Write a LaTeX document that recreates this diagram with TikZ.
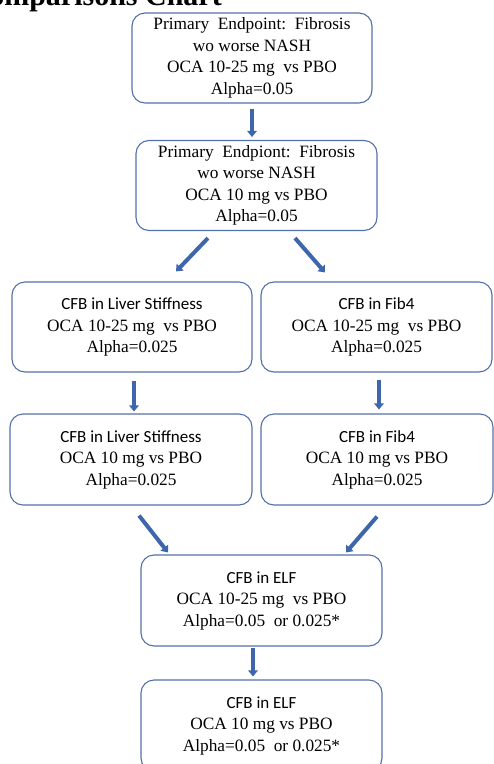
\documentclass[tikz,border=0pt]{standalone}
\usepackage{fontspec}
\setmainfont{Liberation Serif}
\newfontfamily\calibri{Carlito}
\usetikzlibrary{arrows.meta}
\definecolor{boxblue}{RGB}{84,112,168}
\definecolor{arrowblue}{RGB}{62,102,172}
\newcommand{\cfbline}[1]{{\calibri\fontsize{17}{21.5}\selectfont #1}}

\begin{document}
\begin{tikzpicture}[x=1pt,y=-1pt,
  box/.style={draw=boxblue,line width=1.1pt,rounded corners=13pt,minimum height=90pt,
    inner sep=0pt,align=center,font=\fontsize{17.3}{21.5}\selectfont},
  arr/.style={draw=arrowblue,line width=4pt,-{Triangle[width=9.5pt,length=6pt]}}]
\useasboundingbox (0,0) rectangle (494,764);
\clip (0,0) rectangle (494,764);

% heading, cut by the page top
\node[anchor=base east,inner sep=0pt,font=\bfseries\fontsize{30}{30}\selectfont] (title) at (222,5) {Comparisons Chart};

% primary endpoint
\node[box,minimum width=240pt] (prim1025) at (252,58) {Primary\ \ Endpoint:\ \ Fibrosis\\ wo worse\ NASH\\ OCA 10-25 mg\ \ vs PBO\\ Alpha=0.05};
\node[box,minimum width=241pt] (prim10) at (256.5,185.5) {Primary\ \ Endpiont:\ \ Fibrosis\\ wo worse NASH\\ OCA 10 mg vs PBO\\ Alpha=0.05};

% liver stiffness and fib4
\node[box,minimum width=240pt] (ls1025) at (132,327) {\cfbline{CFB in Liver Stiffness}\\ OCA 10-25 mg\ \ vs PBO\\ Alpha=0.025};
\node[box,minimum width=231pt] (fib1025) at (376.5,327) {\cfbline{CFB in Fib4}\\ OCA 10-25 mg\ \ vs PBO\\ Alpha=0.025};
\node[box,minimum width=242pt,minimum height=91pt] (ls10) at (131,459.5) {\cfbline{CFB in Liver Stiffness}\\ OCA 10 mg vs PBO\\ Alpha=0.025};
\node[box,minimum width=232pt,minimum height=91pt] (fib10) at (377,459.5) {\cfbline{CFB in Fib4}\\ OCA 10 mg vs PBO\\ Alpha=0.025};

% ELF
\node[box,minimum width=241pt,minimum height=91pt] (elf1025) at (261.5,600.5) {\cfbline{CFB in ELF}\\ OCA 10-25 mg\ \ vs PBO\\ Alpha=0.05\ \ or 0.025*};
\node[box,minimum width=241pt,minimum height=91pt] (elf10) at (261.5,725.5) {\cfbline{CFB in ELF}\\ OCA 10 mg vs PBO\\ Alpha=0.05\ \ or 0.025*};

% arrows
\draw[arr] ([yshift=-5pt]prim1025.south) -- ([xshift=-4.5pt,yshift=3pt]prim10.north);
\draw[arr] ([xshift=-48.5pt,yshift=-7pt]prim10.south) -- ([xshift=44pt,yshift=10pt]ls1025.north);
\draw[arr] ([xshift=38.5pt,yshift=-7pt]prim10.south) -- ([xshift=-51.5pt,yshift=9pt]fib1025.north);
\draw[arr] ([xshift=2pt,yshift=-8pt]ls1025.south) -- ([xshift=3pt,yshift=2pt]ls10.north);
\draw[arr] ([xshift=2.5pt,yshift=-7pt]fib1025.south) -- ([xshift=2pt,yshift=4pt]fib10.north);
\draw[arr] ([xshift=8pt,yshift=-10pt]ls10.south) -- ([xshift=-93.5pt,yshift=2pt]elf1025.north);
\draw[arr] ([yshift=-11pt]fib10.south) -- ([xshift=84.5pt,yshift=2pt]elf1025.north);
\draw[arr] ([xshift=-8.5pt,yshift=-1pt]elf1025.south) -- ([xshift=-8.5pt,yshift=3pt]elf10.north);
\end{tikzpicture}
\end{document}
